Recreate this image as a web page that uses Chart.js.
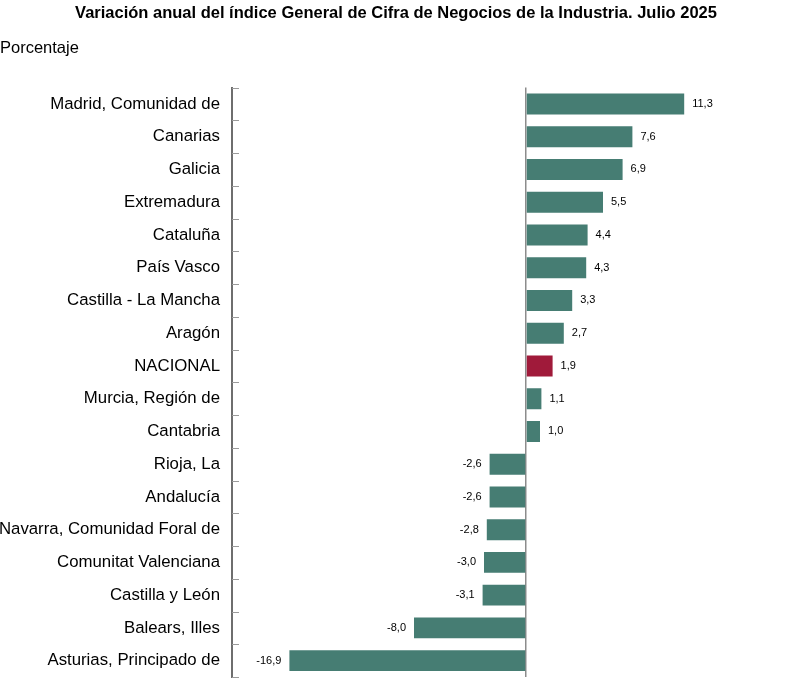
<!DOCTYPE html>
<html>
<head>
<meta charset="utf-8">
<script src="https://cdn.jsdelivr.net/npm/chart.js@4/dist/chart.umd.min.js"></script>
<style>
  body { margin: 0; background: #fff; }
</style>
</head>
<body>
<canvas id="myChart" width="802" height="688"></canvas>
<script>
// regions, ordered as in the picture (top to bottom)
const regiones = [
    'Madrid, Comunidad de', 'Canarias', 'Galicia', 'Extremadura', 'Cataluña',
    'País Vasco', 'Castilla - La Mancha', 'Aragón', 'NACIONAL', 'Murcia, Región de',
    'Cantabria', 'Rioja, La', 'Andalucía', 'Navarra, Comunidad Foral de',
    'Comunitat Valenciana', 'Castilla y León', 'Balears, Illes', 'Asturias, Principado de'
];
const variacion = [11.3, 7.6, 6.9, 5.5, 4.4, 4.3, 3.3, 2.7, 1.9, 1.1, 1.0, -2.6, -2.6, -2.8, -3.0, -3.1, -8.0, -16.9];

const tituloTexto = 'Variación anual del índice General de Cifra de Negocios de la Industria. Julio 2025';
const unidadTexto = 'Porcentaje';

const verde = '#467d73';
const rojo = '#a01a3a';
const fuente = '"Liberation Sans", Arial, sans-serif';

// value labels beside each bar
const etiquetas = {
    id: 'etiquetas',
    afterDatasetsDraw(chart) {
        const c = chart.ctx;
        const meta = chart.getDatasetMeta(0);
        c.save();
        c.font = '11px ' + fuente;
        c.fillStyle = '#000';
        c.textBaseline = 'middle';
        meta.data.forEach((bar, i) => {
            const v = variacion[i];
            const txt = v.toFixed(1).replace('.', ',');
            if (v >= 0) {
                c.textAlign = 'left';
                c.fillText(txt, bar.x + 8, bar.y);
            } else {
                c.textAlign = 'right';
                c.fillText(txt, bar.x - 8, bar.y);
            }
        });
        c.restore();
    }
};

// small tick marks on the inside of the category axis
const marcas = {
    id: 'marcas',
    afterDraw(chart) {
        const y = chart.scales.y;
        const c = chart.ctx;
        const left = chart.chartArea.left;
        const paso = y.getPixelForValue(1) - y.getPixelForValue(0);
        c.save();
        c.strokeStyle = '#9a9a9a';
        c.lineWidth = 1;
        for (let i = 0; i <= regiones.length; i++) {
            let py = y.getPixelForValue(i) - paso / 2;
            if (i === regiones.length) py = y.getPixelForValue(i - 1) + paso / 2;
            py = Math.round(py) + 0.5;
            c.beginPath();
            c.moveTo(left, py);
            c.lineTo(left + 7, py);
            c.stroke();
        }
        c.restore();
    }
};

const ctx = document.getElementById('myChart').getContext('2d');
const myChart = new Chart(ctx, {
    type: 'bar',
    data: {
        labels: regiones,
        datasets: [{
            data: variacion,
            backgroundColor: regiones.map(r => r === 'NACIONAL' ? rojo : verde),
            barPercentage: 0.64,
            categoryPercentage: 1
        }]
    },
    options: {
        indexAxis: 'y',
        responsive: false,
        animation: false,
        devicePixelRatio: 1,
        layout: { padding: { left: 0, right: 10, top: 0, bottom: 11 } },
        plugins: {
            legend: { display: false },
            tooltip: { enabled: false },
            title: {
                display: true,
                text: tituloTexto,
                color: '#000',
                font: { family: fuente, size: 16.5, weight: 'bold' },
                padding: { top: 4, bottom: 15 }
            },
            subtitle: {
                display: true,
                text: unidadTexto,
                align: 'start',
                color: '#000',
                font: { family: fuente, size: 16.5 },
                padding: { top: 0, bottom: 29 }
            }
        },
        scales: {
            x: {
                min: -21,
                max: 19,
                afterFit: s => { s.height = 0; s.paddingLeft = 0; s.paddingRight = 0; },
                ticks: { display: false },
                border: { display: false },
                grid: {
                    drawTicks: false,
                    color: c => c.tick && c.tick.value === 0 ? '#8c8c8c' : 'rgba(0,0,0,0)',
                    lineWidth: 1.5
                }
            },
            y: {
                afterFit: s => { s.width = 232; s.paddingTop = 0; s.paddingBottom = 0; },
                border: { display: true, color: '#6e6e6e', width: 2 },
                grid: { display: false, drawTicks: false },
                ticks: {
                    color: '#000',
                    padding: 12,
                    font: { family: fuente, size: 16.8 }
                }
            }
        }
    },
    plugins: [etiquetas, marcas]
});
</script>
</body>
</html>
